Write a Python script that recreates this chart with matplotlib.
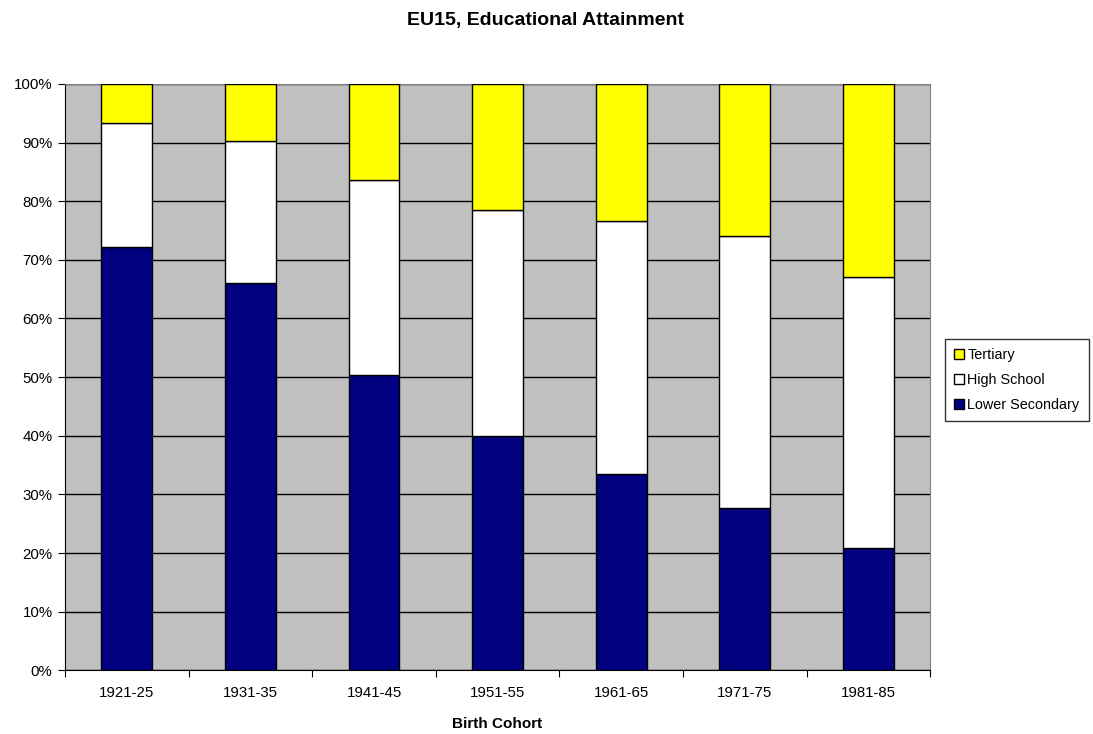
import numpy as np
import matplotlib
matplotlib.use("Agg")
import matplotlib.pyplot as plt
from matplotlib.ticker import PercentFormatter

plt.rcParams["font.family"] = ["Liberation Sans", "DejaVu Sans"]

cohorts = ["1921-25", "1931-35", "1941-45", "1951-55", "1961-65", "1971-75", "1981-85"]
lower_secondary = [72.2, 66.1, 50.4, 40.0, 33.5, 27.6, 20.8]
high_school = [21.1, 24.2, 33.2, 38.5, 43.1, 46.5, 46.3]
tertiary = [6.7, 9.7, 16.4, 21.5, 23.4, 25.9, 32.9]

fig = plt.figure(figsize=(10.93, 7.34), dpi=100)
ax = fig.add_axes([0.0595, 0.0868, 0.7915, 0.7988])

x = np.arange(len(cohorts))
w = 0.41
low = np.array(lower_secondary)
hs = np.array(high_school)
ter = np.array(tertiary)

ax.bar(x, low, w, color="#000080", edgecolor="black", linewidth=1, label="Lower Secondary", zorder=3)
ax.bar(x, hs, w, bottom=low, color="white", edgecolor="black", linewidth=1, label="High School", zorder=3)
ax.bar(x, ter, w, bottom=low + hs, color="#FFFF00", edgecolor="black", linewidth=1, label="Tertiary", zorder=3)

ax.set_facecolor("#C0C0C0")
ax.set_xlim(-0.5, len(cohorts) - 0.5)
ax.set_ylim(0, 100)
ax.set_yticks(np.arange(0, 101, 10))
ax.yaxis.set_major_formatter(PercentFormatter(decimals=0))
ax.yaxis.grid(True, color="black", linewidth=1, zorder=1)
ax.set_axisbelow(True)

# category ticks between the bars, labels in the middle
ax.set_xticks(np.arange(-0.5, len(cohorts), 1))
ax.set_xticklabels([])
ax.set_xticks(x, minor=True)
ax.set_xticklabels(cohorts, minor=True)
ax.tick_params(axis="x", which="minor", length=0, pad=11, labelsize=10.8)
ax.tick_params(axis="x", which="major", length=5, color="black")
ax.tick_params(axis="y", length=5, labelsize=10.8, pad=4)

for side in ["top", "right"]:
    ax.spines[side].set_color("#808080")
for side in ["left", "bottom"]:
    ax.spines[side].set_color("black")

# axis title and chart title placed in figure coords
fig.text(0.4549, 1 - 724 / 734, "Birth Cohort", fontsize=11, fontweight="bold",
         ha="center", va="center")
fig.text(0.4995, 1 - 20 / 734, "EU15, Educational Attainment", fontsize=14,
         fontweight="bold", ha="center", va="center")

handles, labels = ax.get_legend_handles_labels()
leg = fig.legend(handles[::-1], labels[::-1], loc="center left",
                 bbox_to_anchor=(0.8645, 0.482), fontsize=10.4,
                 frameon=True, fancybox=False, edgecolor="black",
                 handlelength=0.7, handleheight=0.7, handletextpad=0.2,
                 labelspacing=0.75, borderpad=0.65, borderaxespad=0)
leg.get_frame().set_linewidth(1)

plt.savefig("out.png", dpi=100)
